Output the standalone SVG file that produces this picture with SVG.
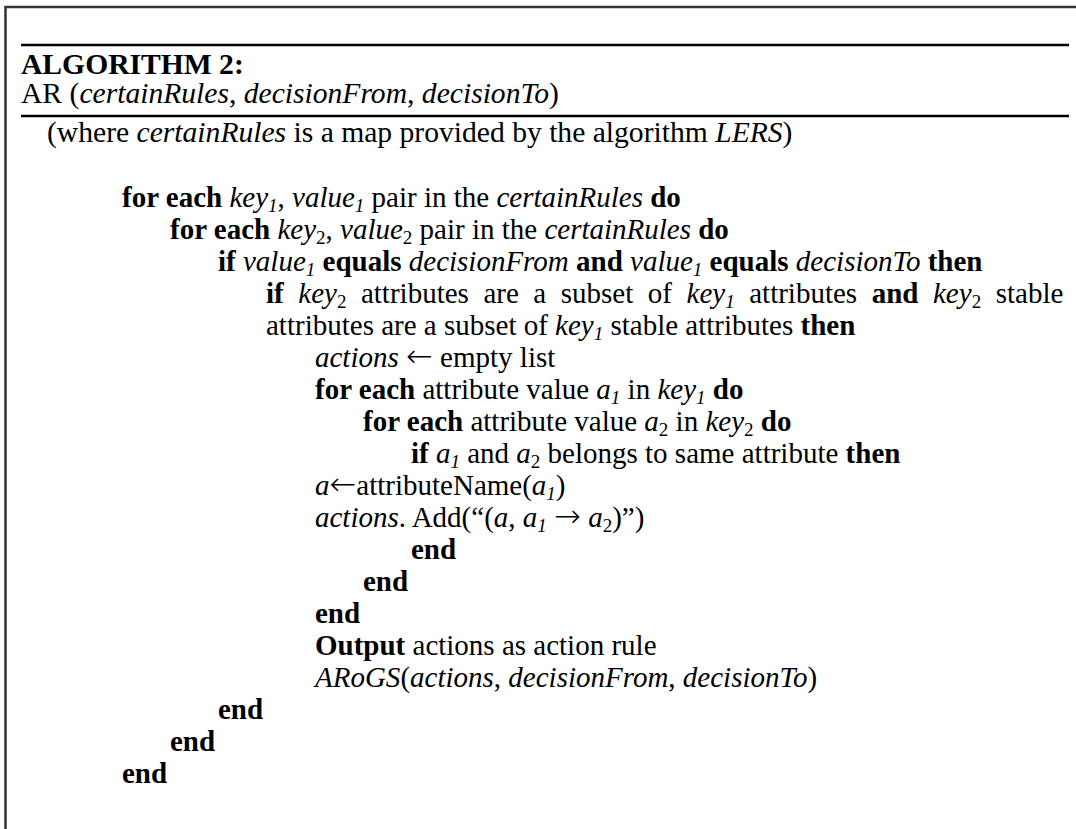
<svg xmlns="http://www.w3.org/2000/svg" width="1076" height="829" viewBox="0 0 1076 829">
<style>
text{font-family:"Liberation Serif","Times New Roman",serif;font-size:29px;fill:#000}
.h{font-size:29.6px}
.b{font-weight:bold}
.i{font-style:italic}
.s{font-size:19px}
.ar{font-family:"DejaVu Sans",sans-serif;font-size:32px;font-style:normal;font-weight:200}
.frame{stroke:#333;stroke-width:2.5;fill:none}
.rule{stroke:#000;stroke-width:2.5}
</style>
<rect width="1076" height="829" fill="#fff"/>
<g id="frame">
<path class="frame" d="M5.5 829 V7 H1076"/>
<line class="rule" x1="21" y1="45" x2="1069" y2="45"/>
<line class="rule" x1="21" y1="116" x2="1069" y2="116"/>
</g>
<g id="header">
<text x="21" y="74" class="h b">ALGORITHM 2:</text>
<text x="21" y="103" class="h">AR (<tspan class="i">certainRules</tspan>, <tspan class="i">decisionFrom</tspan>, <tspan class="i">decisionTo</tspan>)</text>
<text x="47" y="142" class="h">(where <tspan class="i">certainRules</tspan> is a map provided by the algorithm <tspan class="i">LERS</tspan>)</text>
</g>
<g id="body">
<text x="122" y="207"><tspan class="b">for each </tspan><tspan class="i">key</tspan><tspan class="i s" dy="5">1</tspan><tspan dy="-5">, </tspan><tspan class="i">value</tspan><tspan class="i s" dy="5">1</tspan><tspan dy="-5"> pair in the </tspan><tspan class="i">certainRules</tspan><tspan class="b"> do</tspan></text>
<text x="170" y="239"><tspan class="b">for each </tspan><tspan class="i">key</tspan><tspan class="s" dy="5">2</tspan><tspan dy="-5">, </tspan><tspan class="i">value</tspan><tspan class="s" dy="5">2</tspan><tspan dy="-5"> pair in the </tspan><tspan class="i">certainRules</tspan><tspan class="b"> do</tspan></text>
<text x="218" y="271"><tspan class="b">if </tspan><tspan class="i">value</tspan><tspan class="i s" dy="5">1</tspan><tspan class="b" dy="-5"> equals </tspan><tspan class="i">decisionFrom</tspan><tspan class="b"> and </tspan><tspan class="i">value</tspan><tspan class="i s" dy="5">1</tspan><tspan class="b" dy="-5"> equals </tspan><tspan class="i">decisionTo</tspan><tspan class="b"> then</tspan></text>
<text x="266" y="303" word-spacing="7.3"><tspan class="b">if </tspan><tspan class="i">key</tspan><tspan class="s" dy="5">2</tspan><tspan dy="-5"> attributes are a subset of </tspan><tspan class="i">key</tspan><tspan class="i s" dy="5">1</tspan><tspan dy="-5"> attributes </tspan><tspan class="b">and </tspan><tspan class="i">key</tspan><tspan class="s" dy="5">2</tspan><tspan dy="-5"> stable</tspan></text>
<text x="266" y="335">attributes are a subset of <tspan class="i">key</tspan><tspan class="i s" dy="5">1</tspan><tspan dy="-5"> stable attributes </tspan><tspan class="b">then</tspan></text>
<text x="315" y="367"><tspan class="i">actions</tspan> <tspan class="ar">←</tspan> empty list</text>
<text x="315" y="399"><tspan class="b">for each </tspan>attribute value <tspan class="i">a</tspan><tspan class="i s" dy="5">1</tspan><tspan dy="-5"> in </tspan><tspan class="i">key</tspan><tspan class="i s" dy="5">1</tspan><tspan class="b" dy="-5"> do</tspan></text>
<text x="363" y="431"><tspan class="b">for each </tspan>attribute value <tspan class="i">a</tspan><tspan class="s" dy="5">2</tspan><tspan dy="-5"> in </tspan><tspan class="i">key</tspan><tspan class="s" dy="5">2</tspan><tspan class="b" dy="-5"> do</tspan></text>
<text x="411" y="463"><tspan class="b">if </tspan><tspan class="i">a</tspan><tspan class="i s" dy="5">1</tspan><tspan dy="-5"> and </tspan><tspan class="i">a</tspan><tspan class="s" dy="5">2</tspan><tspan dy="-5"> belongs to same attribute </tspan><tspan class="b">then</tspan></text>
<text x="315" y="495"><tspan class="i">a</tspan><tspan class="ar">←</tspan>attributeName(<tspan class="i">a</tspan><tspan class="i s" dy="5">1</tspan><tspan dy="-5">)</tspan></text>
<text x="315" y="527"><tspan class="i">actions</tspan>. Add(“(<tspan class="i">a</tspan>, <tspan class="i">a</tspan><tspan class="i s" dy="5">1</tspan><tspan dy="-5"> </tspan><tspan class="ar">→</tspan> <tspan class="i">a</tspan><tspan class="s" dy="5">2</tspan><tspan dy="-5">)”)</tspan></text>
<text x="411" y="559" class="b">end</text>
<text x="363" y="591" class="b">end</text>
<text x="315" y="623" class="b">end</text>
<text x="315" y="655"><tspan class="b">Output</tspan> actions as action rule</text>
<text x="315" y="687"><tspan class="i">ARoGS</tspan>(<tspan class="i">actions</tspan>, <tspan class="i">decisionFrom</tspan>, <tspan class="i">decisionTo</tspan>)</text>
<text x="218" y="719" class="b">end</text>
<text x="170" y="751" class="b">end</text>
<text x="122" y="783" class="b">end</text>
</g>
</svg>
